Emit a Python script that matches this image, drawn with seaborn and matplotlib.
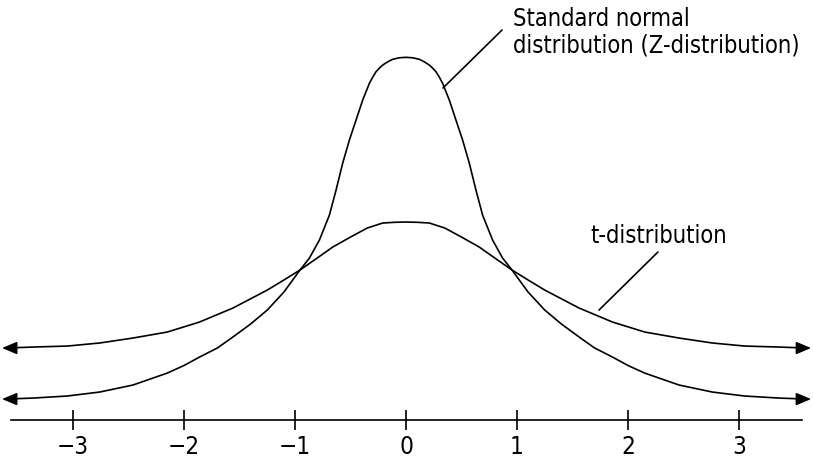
import matplotlib
matplotlib.use("Agg")
import matplotlib.pyplot as plt
import seaborn as sns
import pandas as pd

# ---- data ----
z_x = [-3.6, -3.36, -3.05, -2.76, -2.46, -2.15, -2.0, -1.86, -1.7, -1.56,
       -1.4, -1.25, -1.1, -0.955, -0.87, -0.78, -0.69, -0.63, -0.57, -0.51,
       -0.45, -0.39, -0.33, -0.3, -0.27, -0.24, -0.21, -0.165, -0.12, -0.06,
       0.0,
       0.06, 0.12, 0.165, 0.21, 0.24, 0.27, 0.3, 0.33, 0.39, 0.45, 0.51, 0.57,
       0.63, 0.69, 0.78, 0.87, 0.955, 1.1, 1.25, 1.4, 1.56, 1.7, 1.86, 2.0,
       2.15, 2.46, 2.76, 3.05, 3.36, 3.6]
z_y = [0.0233, 0.0244, 0.0267, 0.0311, 0.0389, 0.0522, 0.0606, 0.0700, 0.0800,
       0.0922, 0.1067, 0.1222, 0.1422, 0.1667, 0.1800, 0.2000, 0.2278, 0.2556,
       0.2856, 0.3111, 0.3333, 0.3556, 0.3741, 0.3810, 0.3870, 0.3910, 0.3944,
       0.3980, 0.4008, 0.4025, 0.4030,
       0.4025, 0.4008, 0.3980, 0.3944, 0.3910, 0.3870, 0.3810, 0.3741, 0.3556,
       0.3333, 0.3111, 0.2856, 0.2556, 0.2278, 0.2000, 0.1800, 0.1667, 0.1422,
       0.1222, 0.1067, 0.0922, 0.0800, 0.0700, 0.0606, 0.0522, 0.0389, 0.0311,
       0.0267, 0.0244, 0.0233]

t_x = [-3.6, -3.36, -3.05, -2.76, -2.46, -2.15, -1.86, -1.56, -1.25, -1.1,
       -0.955, -0.8, -0.66, -0.5, -0.35, -0.21, -0.1, 0.0,
       0.1, 0.21, 0.35, 0.5, 0.66, 0.8, 0.955, 1.1, 1.25, 1.56, 1.86, 2.15,
       2.46, 2.76, 3.05, 3.36, 3.6]
t_y = [0.0800, 0.0811, 0.0822, 0.0856, 0.0911, 0.0978, 0.1089, 0.1244, 0.1444,
       0.1556, 0.1667, 0.1800, 0.1922, 0.2033, 0.2133, 0.2189, 0.2197, 0.2200,
       0.2197, 0.2189, 0.2133, 0.2033, 0.1922, 0.1800, 0.1667, 0.1556, 0.1444,
       0.1244, 0.1089, 0.0978, 0.0911, 0.0856, 0.0822, 0.0811, 0.0800]

tick_vals = [-3, -2, -1, 0, 1, 2, 3]
tick_labels = ["\u22123", "\u22122", "\u22121", "0", "1", "2", "3"]

label_z1 = "Standard normal"
label_z2 = "distribution (Z-distribution)"
label_t = "t-distribution"

# ---- style ----
sns.set_style("white")
plt.rcParams["font.family"] = ["DejaVu Sans"]
plt.rcParams["font.stretch"] = "condensed"

fig = plt.figure(figsize=(8.14, 4.59), dpi=100)
ax = fig.add_axes([0, 0, 1, 1])

z_df = pd.DataFrame({"x": z_x, "y": z_y})
t_df = pd.DataFrame({"x": t_x, "y": t_y})
lw = 1.2
sns.lineplot(data=z_df, x="x", y="y", ax=ax, color="black", lw=lw, sort=False)
sns.lineplot(data=t_df, x="x", y="y", ax=ax, color="black", lw=lw, sort=False)

# arrow heads at curve ends
for xs, ys in ((z_x, z_y), (t_x, t_y)):
    for i1, tip in ((0, -3.64), (-1, 3.65)):
        ax.annotate("", xy=(tip, ys[i1]), xytext=(xs[i1], ys[i1]),
                    arrowprops=dict(arrowstyle="-|>,head_length=1.0,head_width=0.42",
                                    color="black", lw=lw, shrinkA=0, shrinkB=0,
                                    mutation_scale=9))

ax.set_xlim(-3.658, 3.676)
ax.set_ylim(-0.0433, 0.4667)

# axis line with crossing ticks
for s in ("top", "right", "left"):
    ax.spines[s].set_visible(False)
ax.spines["bottom"].set_position(("data", 0))
ax.spines["bottom"].set_bounds(-3.56, 3.57)
ax.spines["bottom"].set_linewidth(lw)
ax.spines["bottom"].set_color("black")
ax.set_xticks(tick_vals)
ax.set_xticklabels(tick_labels)
ax.tick_params(axis="x", direction="inout", length=15, width=lw, colors="black",
               labelsize=17.5, pad=3, bottom=True)
ax.set_yticks([])
ax.set_xlabel("")
ax.set_ylabel("")

# annotations with leader lines
fs = 17
ax.text(0.964, 0.4378, label_z1, ha="left", va="baseline", fontsize=fs, color="black")
ax.text(0.964, 0.4089, label_z2, ha="left", va="baseline", fontsize=fs, color="black")
ax.plot([0.333, 0.865], [0.3689, 0.4333], color="black", lw=lw)
ax.text(1.658, 0.1967, label_t, ha="left", va="baseline", fontsize=fs, color="black")
ax.plot([1.739, 2.27], [0.1222, 0.1867], color="black", lw=lw)

fig.savefig("out.png", dpi=100)
